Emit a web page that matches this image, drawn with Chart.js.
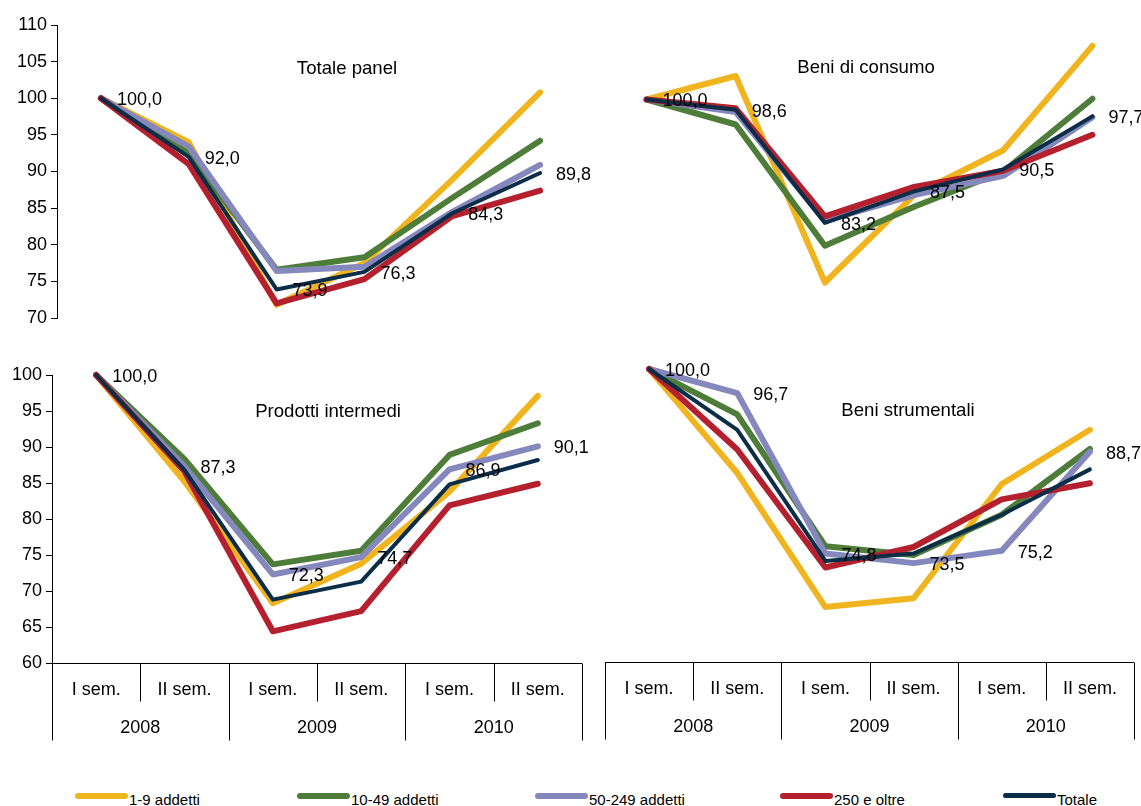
<!DOCTYPE html>
<html>
<head>
<meta charset="utf-8">
<script src="https://cdn.jsdelivr.net/npm/chart.js@4.4.0/dist/chart.umd.min.js"></script>
<style>
  body { margin: 0; background: #fff; width: 1141px; height: 806px; overflow: hidden; position: relative;
         font-family: "Liberation Sans", Arial, sans-serif; color: #000; }
  canvas { position: absolute; }
  .title { position: absolute; font-size: 18.6px; transform: translate(-50%, -50%); white-space: nowrap; }
  .swatch { position: absolute; height: 6px; width: 53px; border-radius: 3px; top: 793px; }
  .ltext { position: absolute; font-size: 15px; line-height: 16px; top: 792px; white-space: nowrap; }
</style>
</head>
<body>
<canvas id="cTot" width="590" height="340" style="left:0;top:0"></canvas>
<canvas id="cCons" width="551" height="340" style="left:590px;top:0"></canvas>
<canvas id="cInt" width="590" height="420" style="left:0;top:340px"></canvas>
<canvas id="cStr" width="551" height="420" style="left:590px;top:340px"></canvas>

<div class="title" style="left:347px;top:68px">Totale panel</div>
<div class="title" style="left:866px;top:67px">Beni di consumo</div>
<div class="title" style="left:328px;top:411px">Prodotti intermedi</div>
<div class="title" style="left:908px;top:410px">Beni strumentali</div>

<div id="legend"></div>

<script>
// categorie
const semesters = ['I sem.', 'II sem.', 'I sem.', 'II sem.', 'I sem.', 'II sem.'];
const years = ['2008', '2009', '2010'];
const seriesNames = ['1-9 addetti', '10-49 addetti', '50-249 addetti', '250 e oltre', 'Totale'];

// Totale panel
const tot_1_9    = [100, 94.0, 71.8, 77.5, 88.9, 100.8];
const tot_10_49  = [100, 92.5, 76.6, 78.3, 86.4, 94.2];
const tot_50_249 = [100, 93.4, 76.4, 77.0, 84.5, 90.9];
const tot_250    = [100, 91.0, 72.0, 75.3, 83.9, 87.4];
const tot_tot    = [100, 92.0, 73.9, 76.3, 84.3, 89.8];

// Beni di consumo
const cons_1_9    = [100, 103.2, 75.1, 87.0, 93.1, 107.3];
const cons_10_49  = [100, 96.6, 80.1, 85.4, 90.2, 100.1];
const cons_50_249 = [100, 98.3, 83.5, 87.0, 89.6, 97.6];
const cons_250    = [100, 98.8, 84.1, 88.1, 90.3, 95.2];
const cons_tot    = [100, 98.6, 83.2, 87.5, 90.5, 97.7];

// Prodotti intermedi
const int_1_9    = [100, 85.2, 68.3, 73.8, 83.8, 97.1];
const int_10_49  = [100, 88.3, 73.7, 75.6, 88.9, 93.3];
const int_50_249 = [100, 87.3, 72.3, 74.7, 86.9, 90.1];
const int_250    = [100, 86.6, 64.4, 67.2, 81.9, 84.9];
const int_tot    = [100, 86.8, 68.8, 71.3, 84.8, 88.2];

// Beni strumentali
const str_1_9    = [100, 85.8, 67.5, 68.7, 84.3, 91.7];
const str_10_49  = [100, 93.8, 75.8, 74.6, 80.1, 89.1];
const str_50_249 = [100, 96.7, 74.8, 73.5, 75.2, 88.7];
const str_250    = [100, 89.0, 72.9, 75.7, 82.2, 84.4];
const str_tot    = [100, 91.7, 73.8, 74.8, 80.1, 86.3];

const colors = ['#F0B51E', '#4E7D39', '#8488BC', '#B5202E', '#0B2D48'];
const widths = [6, 6, 6, 6, 4];
const drawOrder = [4, 3, 2, 1, 0];
const FONT = '"Liberation Sans", Arial, sans-serif';

Chart.defaults.font.family = FONT;

// etichette valori accanto ai punti
const valueLabels = {
  id: 'valueLabels',
  afterDatasetsDraw(chart) {
    const ctx = chart.ctx;
    chart.data.datasets.forEach((ds, i) => {
      if (!ds.showValues) return;
      const meta = chart.getDatasetMeta(i);
      ctx.save();
      ctx.font = '18px ' + FONT;
      ctx.fillStyle = '#000';
      ctx.textAlign = 'left';
      ctx.textBaseline = 'middle';
      meta.data.forEach((pt, j) => {
        ctx.fillText(ds.data[j].toFixed(1).replace('.', ','), pt.x + 16, pt.y + 2);
      });
      ctx.restore();
    });
  }
};

// tabella semestri / anni sotto l'asse x
const semTable = {
  id: 'semTable',
  afterDraw(chart, args, o) {
    if (!o.show) return;
    const { ctx, chartArea: a, scales: { x } } = chart;
    const edges = [];
    for (let i = 0; i <= semesters.length; i++) {
      if (i === 0) edges.push(a.left);
      else if (i === semesters.length) edges.push(a.right);
      else edges.push((x.getPixelForValue(i - 1) + x.getPixelForValue(i)) / 2);
    }
    const b = Math.round(a.bottom) + 0.5;
    ctx.save();
    ctx.strokeStyle = '#000';
    ctx.lineWidth = 1;
    ctx.beginPath();
    ctx.moveTo(a.left, b);
    ctx.lineTo(a.right, b);
    edges.forEach((ex, i) => {
      const len = i % 2 === 0 ? 77 : 38;
      const px = Math.round(ex) + 0.5;
      ctx.moveTo(px, b);
      ctx.lineTo(px, b + len);
    });
    ctx.stroke();
    ctx.fillStyle = '#000';
    ctx.font = '18px ' + FONT;
    ctx.textAlign = 'center';
    ctx.textBaseline = 'middle';
    semesters.forEach((s, i) => ctx.fillText(s, x.getPixelForValue(i), b + 27));
    years.forEach((yr, j) => ctx.fillText(yr, (edges[2 * j] + edges[2 * j + 2]) / 2, b + 65));
    ctx.restore();
  }
};

function makePanel(id, values, labelIdx, yMin, yMax, showY, axisW, padding, table) {
  const ctx = document.getElementById(id).getContext('2d');
  return new Chart(ctx, {
    type: 'line',
    data: {
      labels: semesters,
      datasets: seriesNames.map((name, i) => ({
        label: name,
        data: values[i],
        borderColor: colors[i],
        backgroundColor: colors[i],
        borderWidth: widths[i],
        order: drawOrder[i],
        pointRadius: 0,
        borderCapStyle: 'round',
        borderJoinStyle: 'round',
        tension: 0,
        clip: false,
        showValues: i === labelIdx
      }))
    },
    options: {
      responsive: false,
      animation: false,
      devicePixelRatio: 1,
      layout: { padding: padding },
      plugins: {
        legend: { display: false },
        tooltip: { enabled: false },
        semTable: { show: table }
      },
      scales: {
        x: { type: 'category', offset: true, display: false },
        y: {
          min: yMin,
          max: yMax,
          display: showY,
          ticks: { stepSize: 5, color: '#000', font: { size: 18 }, padding: 4 },
          grid: { drawOnChartArea: false, drawTicks: true, tickLength: 6, color: '#000' },
          border: { display: true, color: '#000', width: 1 },
          afterFit: (s) => { s.width = axisW; }
        }
      }
    },
    plugins: [valueLabels, semTable]
  });
}

makePanel('cTot', [tot_1_9, tot_10_49, tot_50_249, tot_250, tot_tot], 4,
  70, 110, true, 57, { top: 25, bottom: 22, left: 0, right: 6 }, false);
makePanel('cCons', [cons_1_9, cons_10_49, cons_50_249, cons_250, cons_tot], 4,
  70, 110, false, 0, { top: 26, bottom: 20, left: 12, right: 4 }, false);
makePanel('cInt', [int_1_9, int_10_49, int_50_249, int_250, int_tot], 2,
  60, 100, true, 52, { top: 35, bottom: 97, left: 0, right: 8 }, true);
makePanel('cStr', [str_1_9, str_10_49, str_50_249, str_250, str_tot], 2,
  60, 100, false, 0, { top: 29, bottom: 98, left: 15, right: 7 }, true);

// legenda
const legendX = [75, 297, 535, 780, 1003];
const legend = document.getElementById('legend');
seriesNames.forEach((name, i) => {
  const sw = document.createElement('div');
  sw.className = 'swatch';
  sw.style.left = legendX[i] + 'px';
  sw.style.background = colors[i];
  if (i === 4) { sw.style.height = '5px'; }
  legend.appendChild(sw);
  const t = document.createElement('div');
  t.className = 'ltext';
  t.style.left = (legendX[i] + 54) + 'px';
  t.textContent = name;
  legend.appendChild(t);
});
</script>
</body>
</html>
